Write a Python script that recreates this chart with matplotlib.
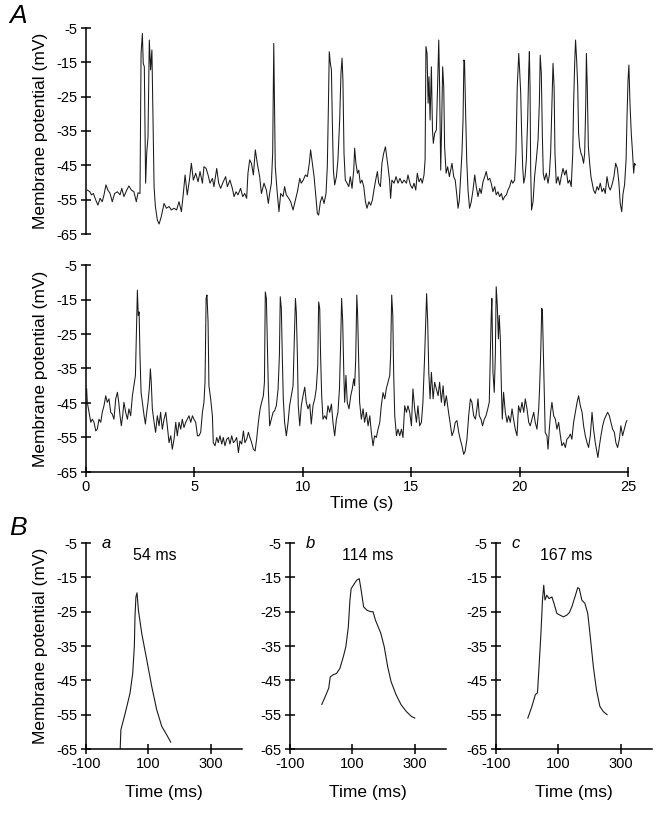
import matplotlib
matplotlib.use("Agg")
import matplotlib.pyplot as plt

plt.rcParams['font.family'] = ['Liberation Sans', 'DejaVu Sans']
plt.rcParams['axes.unicode_minus'] = False

# ---------------- Data ----------------
top_t = [0.06,0.18,0.25,0.34,0.45,0.55,0.65,0.75,0.83,0.92,
         1.01,1.11,1.21,1.32,1.45,1.57,1.65,1.75,1.88,1.98,
         2.09,2.21,2.32,2.40,2.49,2.54,2.60,2.64,2.69,2.75,
         2.80,2.86,2.92,2.98,3.04,3.09,3.14,3.20,3.29,3.37,
         3.47,3.60,3.71,3.83,3.94,4.06,4.18,4.29,4.40,4.49,
         4.57,4.67,4.77,4.86,4.95,5.06,5.17,5.26,5.37,5.44,
         5.54,5.63,5.72,5.83,5.90,6.03,6.12,6.21,6.33,6.44,
         6.52,6.64,6.75,6.83,6.92,7.01,7.13,7.23,7.32,7.41,
         7.47,7.55,7.63,7.72,7.81,7.90,8.01,8.09,8.21,8.32,
         8.41,
         8.47,8.55,8.61,8.66,8.69,8.73,8.81,8.90,8.98,9.09,
         9.16,9.24,9.35,9.44,9.55,9.66,9.75,9.86,9.93,10.02,
         10.12,10.21,10.30,10.36,10.44,10.52,10.59,10.67,10.73,10.81,
         10.89,10.98,11.07,11.13,11.18,11.22,11.27,11.32,11.36,11.41,
         11.47,11.55,11.62,11.70,11.76,11.81,11.85,11.90,11.96,12.04,
         12.12,12.19,12.27,12.35,12.39,12.45,12.52,12.58,12.65,12.73,
         12.81,12.89,12.96,13.05,13.13,13.21,13.28,13.36,13.44,13.50,
         13.58,13.65,13.73,13.81,13.87,13.93,14.00,14.05,14.11,14.21,
         14.30,14.39,14.48,14.58,14.67,14.78,14.85,14.96,15.05,15.13,
         15.21,15.28,15.36,15.44,15.51,15.59,15.64,15.68,15.73,15.78,
         15.82,15.87,15.93,15.98,16.02,16.08,16.16,16.22,16.27,16.31,
         16.36,16.40,16.45,16.50,16.54,16.61,16.68,16.76,16.85,
         16.88,16.96,17.03,17.11,17.16,17.22,17.28,17.34,17.39,17.43,
         17.46,17.51,17.56,17.62,17.69,17.77,17.85,17.93,18.00,18.08,
         18.16,18.23,18.31,18.39,18.46,18.54,18.62,18.69,18.77,18.85,
         18.92,19.00,19.08,19.16,19.23,19.31,19.39,19.46,19.54,19.62,
         19.69,19.77,19.83,19.89,19.96,20.00,20.05,20.09,20.14,20.19,
         20.25,20.31,20.37,20.42,20.45,20.48,20.51,20.55,20.62,20.69,
         20.77,20.85,20.91,20.95,21.00,21.05,21.09,21.15,21.23,21.31,
         21.37,21.43,21.49,21.54,21.59,21.63,21.69,21.77,21.85,21.92,
         22.00,22.08,22.15,22.23,22.31,22.38,22.45,22.49,22.54,22.58,
         22.63,22.68,22.72,22.77,22.83,22.89,22.95,23.00,23.05,23.08,
         23.12,23.17,23.23,23.29,23.35,23.41,23.49,23.57,23.64,23.72,
         23.80,23.88,23.95,24.03,24.11,24.18,24.26,24.35,24.43,24.51,
         24.58,24.64,24.71,24.77,24.84,24.91,24.95,25.00,25.04,25.09,
         25.15,25.21,25.26,25.30,25.35]
top_v = [-52.2,-52.7,-53.6,-53.2,-55.1,-56.6,-54.6,-55.6,-53.6,-50.7,
         -52.2,-53.2,-55.6,-53.2,-52.7,-53.6,-51.7,-54.1,-52.2,-51.0,
         -52.2,-52.7,-55.6,-53.0,-53.2,-12.4,-6.6,-15.3,-16.3,-50.2,
         -41.5,-36.7,-8.5,-17.2,-11.4,-31.8,-51.2,-57.0,-60.9,-62.1,
         -60.0,-56.1,-57.5,-57.0,-58.0,-57.5,-58.0,-55.6,-58.5,-53.2,
         -47.8,-53.6,-49.3,-44.4,-49.3,-47.3,-49.8,-46.8,-50.2,-45.4,
         -45.9,-47.8,-50.2,-48.8,-51.2,-45.9,-50.2,-51.7,-49.8,-48.3,
         -51.2,-49.3,-51.7,-54.1,-52.7,-53.6,-51.7,-54.1,-53.2,-54.6,
         -47.3,-43.4,-44.4,-47.8,-40.5,-44.4,-48.3,-53.2,-50.2,-52.2,
         -56.1,
         -53.2,-50.2,-41.5,-9.5,-25.0,-45.4,-52.2,-58.5,-53.2,-54.1,
         -51.2,-53.6,-54.6,-55.6,-58.0,-55.1,-52.7,-48.8,-50.2,-49.3,
         -47.8,-48.3,-44.4,-40.5,-44.4,-48.3,-53.2,-59.0,-59.5,-55.6,
         -54.1,-56.1,-53.2,-45.4,-27.9,-11.9,-15.3,-17.2,-31.8,-46.4,
         -50.7,-48.3,-43.4,-31.8,-18.2,-13.8,-20.1,-41.5,-49.3,-50.2,
         -51.2,-48.3,-51.7,-46.4,-40.0,-44.4,-47.3,-46.4,-50.2,-49.3,
         -51.2,-55.6,-57.5,-55.6,-56.6,-55.1,-52.2,-49.3,-46.8,-50.2,
         -51.2,-44.4,-41.5,-39.6,-42.5,-45.4,-49.3,-54.6,-49.3,-50.2,
         -48.3,-50.2,-48.8,-50.2,-49.3,-50.2,-47.8,-50.7,-51.7,-50.2,
         -52.2,-47.3,-49.8,-48.8,-50.2,-47.8,-43.4,-10.4,-12.4,-26.9,
         -19.2,-31.8,-16.3,-34.7,-38.6,-35.7,-34.7,-21.1,-8.5,-22.1,
         -46.4,-34.7,-16.3,-22.1,-39.6,-47.3,-45.4,-48.3,-45.4,
         -44.4,-48.3,-49.3,-54.1,-57.5,-55.1,-48.3,-41.5,-31.8,-14.3,
         -14.8,-29.9,-43.4,-52.2,-57.5,-55.6,-52.2,-47.8,-51.2,-54.1,
         -51.7,-53.2,-49.8,-48.3,-46.8,-49.3,-48.8,-50.2,-52.7,-51.2,
         -53.6,-52.7,-54.1,-53.2,-55.1,-54.1,-53.6,-52.2,-51.2,-49.3,
         -50.2,-49.3,-41.5,-22.1,-12.4,-17.2,-24.0,-34.7,-45.4,-50.2,
         -48.3,-43.4,-31.8,-17.2,-11.9,-22.1,-46.4,-58.0,-55.6,-48.3,
         -43.4,-37.6,-26.9,-12.9,-18.2,-36.7,-47.3,-49.3,-47.3,-50.2,
         -47.8,-41.5,-26.9,-15.3,-22.1,-41.5,-50.2,-48.3,-50.7,-48.3,
         -45.9,-47.8,-46.4,-50.2,-49.3,-51.2,-41.5,-26.9,-15.3,-8.5,
         -14.3,-22.1,-35.7,-39.6,-41.5,-42.5,-44.4,-41.5,-26.9,-12.4,
         -22.1,-39.6,-44.4,-48.3,-50.2,-52.2,-53.2,-51.2,-52.2,-50.2,
         -52.7,-51.7,-53.2,-48.3,-51.2,-52.2,-50.7,-48.3,-44.4,-45.9,
         -50.2,-56.1,-58.5,-53.2,-50.7,-43.4,-31.8,-20.1,-15.8,-26.9,
         -35.7,-41.5,-47.3,-44.4,-44.9]

bot_t = [0.03,0.06,0.14,0.22,0.29,0.37,0.45,0.52,0.60,0.68,
         0.75,0.83,0.91,0.98,1.06,1.14,1.21,1.29,1.37,1.45,
         1.51,1.57,1.63,1.69,1.75,1.83,1.91,1.98,2.06,2.14,
         2.21,2.28,2.32,2.37,2.41,2.45,2.49,2.54,2.60,2.68,
         2.74,2.80,2.86,2.92,2.97,3.01,3.06,3.14,3.21,3.29,
         3.37,3.44,3.52,3.60,3.68,3.75,3.83,3.91,3.98,4.06,
         4.14,4.21,4.29,4.37,4.44,4.52,4.60,4.67,4.75,4.83,
         4.91,4.98,5.06,5.14,5.21,5.29,5.37,5.44,5.49,5.54,
         5.58,5.63,5.67,5.75,5.83,5.87,5.95,6.03,6.10,6.18,
         6.26,6.33,6.41,6.49,6.57,6.64,6.72,6.80,6.87,6.95,
         7.03,7.10,7.18,7.26,7.33,7.41,7.49,7.56,7.64,7.72,
         7.80,7.87,7.95,8.03,8.10,8.18,8.23,8.27,8.32,8.36,
         8.41,
         8.47,8.55,8.63,8.70,8.78,8.86,8.92,8.96,9.01,9.06,
         9.10,9.16,9.24,9.32,9.39,9.47,9.55,9.59,9.66,9.70,
         9.75,9.79,9.86,9.93,10.01,10.09,10.16,10.24,10.32,10.39,
         10.47,10.55,10.62,10.69,10.73,10.78,10.82,10.87,10.93,11.01,
         11.09,11.16,11.24,11.32,11.39,11.47,11.55,11.62,11.69,11.75,
         11.79,11.84,11.89,11.93,11.99,12.05,12.13,12.21,12.28,12.35,
         12.39,12.44,12.49,12.53,12.58,12.62,12.70,12.78,12.85,12.93,
         13.01,13.09,13.16,13.24,13.31,13.39,13.47,13.55,13.62,13.70,
         13.78,13.85,13.93,14.01,14.05,14.10,14.15,14.19,14.24,14.32,
         14.39,14.47,14.55,14.62,14.70,14.78,14.85,14.93,15.01,15.08,
         15.16,15.24,15.31,15.39,15.47,15.54,15.62,15.67,15.71,15.76,
         15.81,15.87,15.93,16.01,16.08,16.16,16.24,16.31,16.39,16.47,
         16.54,16.62,16.70,16.77,
         16.88,16.96,17.03,17.11,17.19,17.26,17.34,17.42,17.49,17.57,
         17.65,17.73,17.80,17.88,17.96,18.03,18.08,18.14,18.22,18.29,
         18.37,18.45,18.53,18.60,18.65,18.69,18.72,18.77,18.83,18.88,
         18.92,18.97,19.02,19.06,19.11,19.16,19.20,19.26,19.34,19.42,
         19.49,19.57,19.65,19.72,19.80,19.88,19.95,20.03,20.11,20.19,
         20.26,20.34,20.42,20.49,20.57,20.65,20.72,20.80,20.88,20.92,
         20.97,21.02,21.05,21.09,21.14,21.18,21.26,21.31,21.37,21.43,
         21.49,21.57,21.65,21.72,21.80,21.88,21.95,22.03,22.11,22.18,
         22.26,22.34,22.41,22.49,22.57,22.65,22.72,22.80,22.88,22.95,
         23.03,23.11,23.18,23.26,23.34,23.41,23.49,23.57,23.61,23.68,
         23.75,23.83,23.91,23.98,24.06,24.14,24.21,24.29,24.37,24.44,
         24.52,24.60,24.67,24.75,24.83,24.91,24.95]
bot_v = [-40.9,-44.8,-47.7,-50.6,-49.7,-50.6,-53.1,-52.6,-49.7,-50.6,
         -47.7,-45.8,-42.9,-44.8,-43.8,-47.7,-48.2,-49.7,-43.8,-41.9,
         -44.8,-48.7,-51.6,-48.7,-44.8,-47.7,-49.7,-46.7,-48.7,-42.9,
         -40.0,-37.0,-26.4,-12.3,-19.6,-18.6,-31.2,-41.9,-44.8,-48.7,
         -51.1,-47.7,-44.8,-40.9,-35.1,-39.0,-46.7,-50.6,-53.5,-48.7,
         -51.6,-47.7,-52.6,-49.7,-47.7,-51.6,-56.5,-54.5,-58.4,-55.5,
         -50.6,-54.5,-50.6,-52.6,-49.7,-52.1,-50.6,-49.7,-48.7,-50.6,
         -48.7,-49.7,-50.6,-54.5,-54.5,-53.5,-47.7,-44.8,-39.0,-14.7,
         -13.7,-21.5,-40.0,-43.8,-48.7,-56.5,-57.4,-55.0,-56.5,-54.5,
         -56.9,-55.0,-57.4,-55.5,-55.0,-56.9,-54.5,-56.5,-56.0,-55.0,
         -59.4,-56.0,-56.9,-53.1,-56.5,-55.5,-53.5,-55.0,-56.5,-58.4,
         -58.9,-55.5,-50.6,-46.7,-44.8,-42.9,-39.0,-12.8,-14.7,-26.4,
         -40.9,
         -51.6,-49.7,-47.7,-47.2,-45.8,-40.9,-31.2,-14.2,-17.6,-33.2,
         -43.8,-50.6,-54.5,-50.6,-45.8,-42.9,-40.0,-31.2,-14.7,-18.6,
         -31.2,-45.8,-51.6,-45.8,-42.9,-40.4,-44.8,-46.7,-45.3,-51.1,
         -45.8,-43.8,-40.9,-34.1,-15.7,-17.6,-31.2,-42.9,-49.7,-48.7,
         -49.7,-45.8,-47.7,-45.3,-50.6,-54.5,-49.7,-47.7,-40.9,-26.4,
         -14.7,-21.5,-36.1,-44.8,-37.0,-44.8,-46.7,-42.9,-40.9,-38.0,
         -40.0,-32.2,-13.7,-19.6,-33.2,-44.8,-49.7,-46.7,-50.6,-47.7,
         -51.6,-48.7,-53.5,-57.4,-54.5,-55.0,-52.6,-50.6,-45.8,-42.0,
         -43.8,-40.9,-39.0,-37.0,-31.2,-13.7,-19.6,-36.1,-48.7,-54.5,
         -52.6,-54.5,-52.6,-55.0,-45.8,-47.7,-45.8,-47.7,-51.6,-40.9,
         -46.7,-50.6,-45.8,-51.6,-50.6,-44.8,-31.2,-21.5,-13.3,-21.5,
         -36.1,-43.8,-36.1,-43.8,-39.0,-40.9,-42.9,-39.0,-44.8,-40.0,
         -45.8,-42.9,-46.7,-49.7,
         -54.5,-53.1,-50.6,-50.1,-53.5,-55.5,-57.4,-59.9,-58.9,-55.5,
         -48.7,-43.8,-44.8,-48.7,-49.7,-46.7,-43.8,-48.7,-49.7,-51.6,
         -49.7,-48.7,-46.7,-44.8,-31.2,-19.6,-14.7,-36.1,-41.9,-31.2,
         -11.3,-16.7,-26.4,-19.6,-26.4,-40.9,-49.7,-41.9,-47.7,-50.6,
         -48.7,-50.6,-46.7,-49.7,-52.6,-54.5,-45.8,-47.7,-44.8,-47.7,
         -43.8,-46.7,-50.6,-51.6,-49.7,-47.7,-50.6,-52.6,-46.7,-40.9,
         -31.2,-17.6,-18.1,-29.3,-43.8,-53.5,-54.5,-58.4,-52.6,-47.7,
         -44.8,-48.7,-49.7,-52.6,-50.6,-54.5,-57.4,-56.5,-57.9,-55.5,
         -55.0,-54.0,-55.5,-50.6,-47.7,-44.8,-42.9,-45.8,-47.7,-51.6,
         -54.5,-56.5,-57.9,-54.5,-47.7,-52.6,-56.5,-59.4,-60.8,-57.4,
         -54.5,-51.6,-49.7,-48.7,-47.7,-48.7,-50.6,-52.6,-53.5,-56.5,
         -57.9,-55.5,-51.6,-54.5,-52.6,-50.6,-50.1]

a_t = [9.6, 11.8, 25.6, 41, 49.7, 55, 57, 60, 63.6, 68, 78.6, 94.7, 110.7, 126.7, 142.8, 158.8, 171.6]
a_v = [-65, -59.4, -54.6, -48.8, -43, -35, -26.5, -20.7, -19.5, -24.6, -31.3, -39, -46.8, -53.6, -58.4, -60.9, -63]
b_t = [2, 13, 24, 29, 38, 49, 60, 71, 79, 87, 92, 96, 103, 114, 122, 128, 136, 147, 158, 166,
       174, 191, 202, 213, 224, 240, 256, 273, 289, 300]
b_v = [-52, -49.7, -47.3, -44, -43.4, -43, -41.5, -38.1, -35.2, -29.4, -21.7, -18.3, -17.3, -15.8,
       -15.4, -18.7, -23.6, -24.6, -25, -25, -27.5, -31.3, -35.2, -41, -45.4, -49.2, -52.1, -54.1,
       -55.5, -56]
c_t = [2, 15, 26, 33, 38, 44, 49, 53, 57, 63, 70, 79, 86, 95, 105, 116, 127, 135, 143, 153, 162,
       167, 175, 185, 194, 201, 212, 222, 233, 244, 256]
c_v = [-56, -52.6, -49.2, -48.6, -41, -31.3, -21.6, -17.3, -21.6, -20.2, -21.2, -20.7, -22.6,
       -25.5, -26, -26.5, -26, -25.3, -23.6, -20.7, -18, -18.3, -21.6, -22.6, -25.5, -31.3, -41,
       -47.8, -52.6, -54.1, -55]

y_ticks = [-65, -55, -45, -35, -25, -15, -5]
sec_ticks = [0, 5, 10, 15, 20, 25]
ms_ticks = [-100, 100, 300]
burst_labels = ['54 ms', '114 ms', '167 ms']
panel_letters = ['a', 'b', 'c']

# ---------------- Figure ----------------
W, H = 660, 821
fig = plt.figure(figsize=(W / 100, H / 100), dpi=100)

def frac(x0, y0, x1, y1):
    return [x0 / W, 1 - y1 / H, (x1 - x0) / W, (y1 - y0) / H]

LC = '#1a1a1a'
TFS = 10.5
LFS = 12.5

def style(ax, xaxis=True):
    for s in ['top', 'right']:
        ax.spines[s].set_visible(False)
    ax.spines['left'].set_linewidth(1.1)
    ax.spines['bottom'].set_linewidth(1.1)
    ax.set_ylim(-65, -5)
    ax.set_yticks(y_ticks)
    ax.set_yticklabels([str(v) for v in y_ticks])
    ax.tick_params(direction='inout', length=7, width=1.1, labelsize=TFS, pad=2.5)
    if not xaxis:
        ax.spines['bottom'].set_visible(False)
        ax.set_xticks([])

# A top
ax1 = fig.add_axes(frac(86, 28, 636.7, 234))
ax1.plot(top_t, top_v, color=LC, lw=0.75)
ax1.set_xlim(0, 25.4)
style(ax1, xaxis=False)
ax1.set_ylabel('Membrane potential (mV)', fontsize=LFS, labelpad=6)

# A bottom
ax2 = fig.add_axes(frac(86, 265, 636.7, 472))
ax2.plot(bot_t, bot_v, color=LC, lw=0.75)
ax2.set_xlim(0, 25.4)
style(ax2)
ax2.spines['bottom'].set_bounds(0, 25)
ax2.set_xticks(sec_ticks)
ax2.set_xticklabels([str(v) for v in sec_ticks])
ax2.set_ylabel('Membrane potential (mV)', fontsize=LFS, labelpad=6)
ax2.set_xlabel('Time (s)', fontsize=LFS, labelpad=1)

# B panels
lefts = [86, 290, 496]
traces = [(a_t, a_v), (b_t, b_v), (c_t, c_v)]
label_x = [121, 150, 124]
for i, (lx, (tt, vv)) in enumerate(zip(lefts, traces)):
    ax = fig.add_axes(frac(lx, 543, lx + 156, 749))
    ax.plot(tt, vv, color=LC, lw=0.8)
    ax.set_xlim(-100, 400)
    style(ax)
    ax.set_xticks(ms_ticks)
    ax.set_xticklabels([str(v) for v in ms_ticks])
    ax.set_xlabel('Time (ms)', fontsize=LFS, labelpad=10)
    ax.text(label_x[i], -8.5, burst_labels[i], fontsize=11.5, ha='center', va='center')
    ax.text(0.1, 1.0, panel_letters[i], transform=ax.transAxes, fontsize=12,
            style='italic', ha='left', va='center')
    if i == 0:
        ax.set_ylabel('Membrane potential (mV)', fontsize=LFS, labelpad=6)

fig.text(9 / W, 1 - 16 / H, 'A', fontsize=19, style='italic', ha='left', va='center')
fig.text(9 / W, 1 - 528 / H, 'B', fontsize=19, style='italic', ha='left', va='center')

fig.savefig('out.png', dpi=100)
